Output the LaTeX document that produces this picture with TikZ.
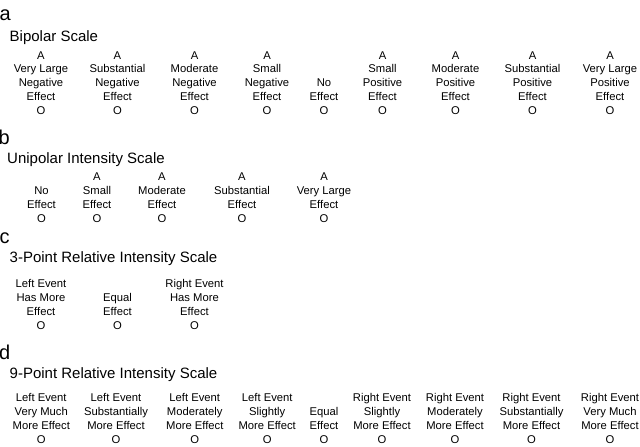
\documentclass[tikz,border=0pt]{standalone}
\usepackage{fontspec}
\setmainfont{Liberation Sans}
\begin{document}
\begin{tikzpicture}[x=1pt,y=-1pt,
  letter/.style={anchor=base west,inner sep=0pt,font=\fontsize{20}{24}\selectfont},
  title/.style={anchor=base west,inner sep=0pt,font=\fontsize{15}{18}\selectfont},
  item/.style={anchor=south,inner sep=0pt,align=center,font=\fontsize{11.25}{13.75}\selectfont}]
\useasboundingbox (0,0) rectangle (640,447);
% panel a
\node[letter] (la) at (-0.5,20) {a};
\node[title] (ta) at (9.5,41) {Bipolar Scale};
\node[item] (a1) at (41,114.5) {A\\Very Large\\Negative\\Effect\\O};
\node[item] (a2) at (117.5,114.5) {A\\Substantial\\Negative\\Effect\\O};
\node[item] (a3) at (194.5,114.5) {A\\Moderate\\Negative\\Effect\\O};
\node[item] (a4) at (267,114.5) {A\\Small\\Negative\\Effect\\O};
\node[item] (a5) at (324,114.5) {No\\Effect\\O};
\node[item] (a6) at (382.5,114.5) {A\\Small\\Positive\\Effect\\O};
\node[item] (a7) at (455.5,114.5) {A\\Moderate\\Positive\\Effect\\O};
\node[item] (a8) at (532.5,114.5) {A\\Substantial\\Positive\\Effect\\O};
\node[item] (a9) at (610,114.5) {A\\Very Large\\Positive\\Effect\\O};
% panel b
\node[letter] (lb) at (-1.5,144) {b};
\node[title] (tb) at (7,163) {Unipolar Intensity Scale};
\node[item] (b1) at (41.5,222.5) {No\\Effect\\O};
\node[item] (b2) at (97,222.5) {A\\Small\\Effect\\O};
\node[item] (b3) at (162,222.5) {A\\Moderate\\Effect\\O};
\node[item] (b4) at (242,222.5) {A\\Substantial\\Effect\\O};
\node[item] (b5) at (324,222.5) {A\\Very Large\\Effect\\O};
% panel c
\node[letter] (lc) at (-0.5,243) {c};
\node[title] (tc) at (9.5,262) {3-Point Relative Intensity Scale};
\node[item] (c1) at (41,329.5) {Left Event\\Has More\\Effect\\O};
\node[item] (c2) at (117.5,329.5) {Equal\\Effect\\O};
\node[item] (c3) at (194.5,329.5) {Right Event\\Has More\\Effect\\O};
% panel d
\node[letter] (ld) at (-1,359) {d};
\node[title] (td) at (9.5,378) {9-Point Relative Intensity Scale};
\node[item] (d1) at (41.3,443.5) {Left Event\\Very Much\\More Effect\\O};
\node[item] (d2) at (116,443.5) {Left Event\\Substantially\\More Effect\\O};
\node[item] (d3) at (194.8,443.5) {Left Event\\Moderately\\More Effect\\O};
\node[item] (d4) at (267.2,443.5) {Left Event\\Slightly\\More Effect\\O};
\node[item] (d5) at (324,443.5) {Equal\\Effect\\O};
\node[item] (d6) at (382,443.5) {Right Event\\Slightly\\More Effect\\O};
\node[item] (d7) at (455,443.5) {Right Event\\Moderately\\More Effect\\O};
\node[item] (d8) at (531.5,443.5) {Right Event\\Substantially\\More Effect\\O};
\node[item] (d9) at (610,443.5) {Right Event\\Very Much\\More Effect\\O};
\end{tikzpicture}
\end{document}
